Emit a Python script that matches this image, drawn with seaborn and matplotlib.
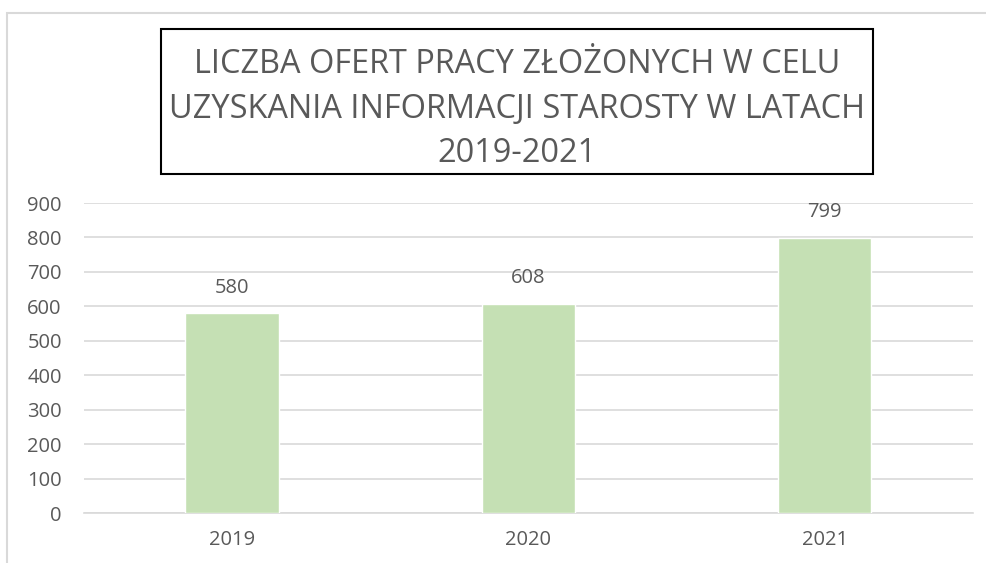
import numpy as np
import pandas as pd
import matplotlib
matplotlib.use("Agg")
import matplotlib.pyplot as plt
import seaborn as sns
from matplotlib.patches import Rectangle

years = ["2019", "2020", "2021"]
offers = [580, 608, 799]
title = "LICZBA OFERT PRACY ZŁOŻONYCH W CELU\nUZYSKANIA INFORMACJI STAROSTY W LATACH\n2019-2021"

TXT = "#595959"
GRID = "#D9D9D9"
BAR = "#C5E0B4"

sns.set_style("white")
plt.rcParams["font.family"] = ["Open Sans", "DejaVu Sans"]

df = pd.DataFrame({"year": years, "offers": offers})

fig = plt.figure(figsize=(9.87, 5.63), dpi=100)
ax = fig.add_axes([0.0851, 0.0888, 0.9007, 0.5506])

sns.barplot(data=df, x="year", y="offers", color=BAR, width=0.315,
            saturation=1, ax=ax, zorder=3)

ax.set_ylim(0, 900)
ax.set_yticks(np.arange(0, 901, 100))
ax.grid(axis="y", color=GRID, linewidth=1.2, zorder=0)
ax.set_axisbelow(True)
for s in ["left", "right", "top"]:
    ax.spines[s].set_visible(False)
ax.spines["bottom"].set_color(GRID)
ax.spines["bottom"].set_linewidth(1.2)
ax.tick_params(axis="both", length=0, labelsize=14.5, colors=TXT)
ax.tick_params(axis="y", pad=16)
ax.tick_params(axis="x", pad=12)
ax.set_xlabel("")
ax.set_ylabel("")

for i, v in enumerate(offers):
    ax.text(i, v + 45, f"{v}", ha="center", va="bottom", fontsize=14.5, color=TXT)

# chart title in a box
fig.text(0.524, 1 - 109 / 563, title, ha="center", va="center", fontsize=23.4,
         color=TXT, linespacing=1.47)
fig.patches.append(Rectangle((161 / 987, 1 - 174 / 563), (873 - 161) / 987, (174 - 29) / 563,
                             transform=fig.transFigure, fill=False,
                             edgecolor="black", linewidth=1.5))

# outer chart border
fig.patches.append(Rectangle((7 / 987, -0.1), 1.2, 1 - 13 / 563 + 0.1,
                             transform=fig.transFigure, fill=False,
                             edgecolor=GRID, linewidth=1.5))

plt.savefig("out.png", dpi=100)
plt.close()
